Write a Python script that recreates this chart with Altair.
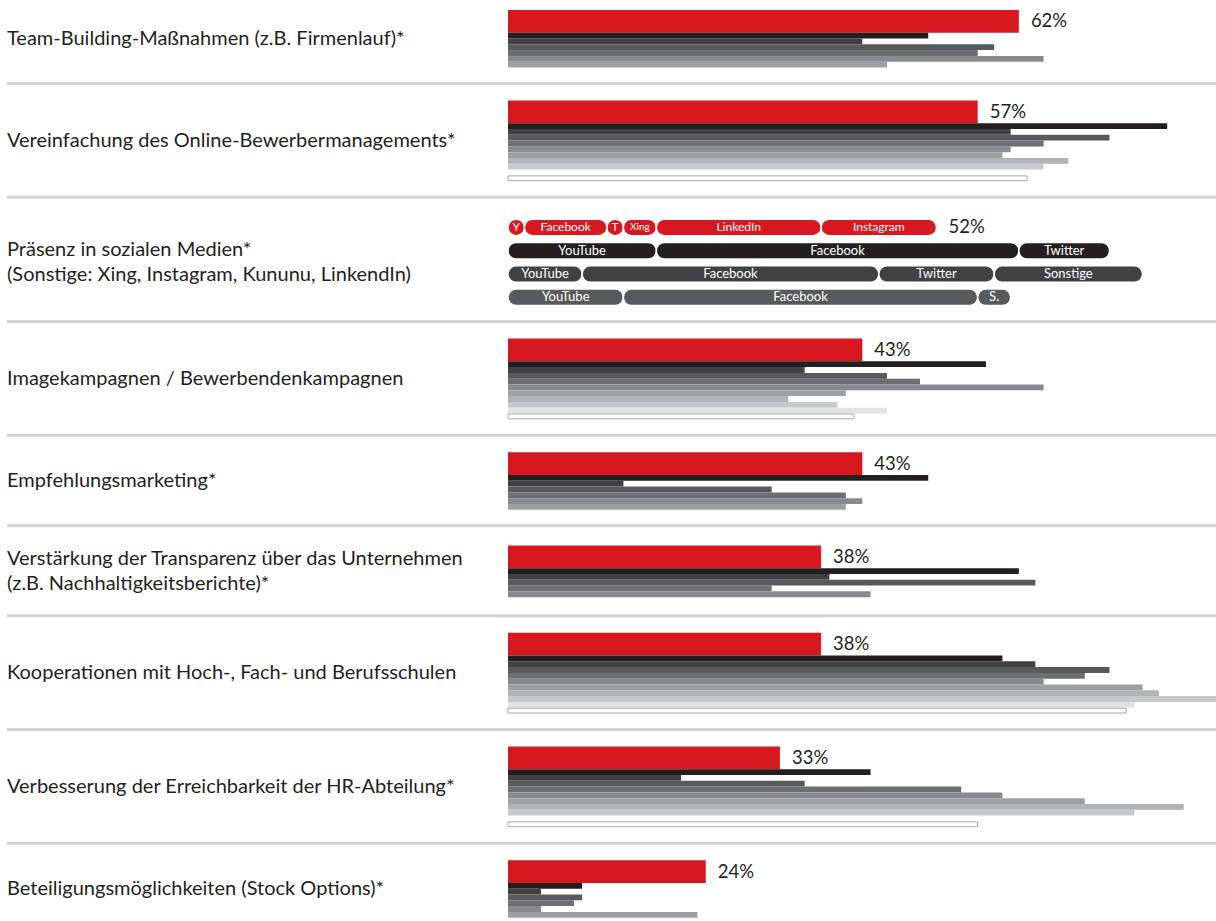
import altair as alt
import pandas as pd

# ---------------- data ----------------
categories = [
    ["Team-Building-Maßnahmen (z.B. Firmenlauf)*"],
    ["Vereinfachung des Online-Bewerbermanagements*"],
    ["Präsenz in sozialen Medien*", "(Sonstige: Xing, Instagram, Kununu, LinkendIn)"],
    ["Imagekampagnen / Bewerbendenkampagnen"],
    ["Empfehlungsmarketing*"],
    ["Verstärkung der Transparenz über das Unternehmen", "(z.B. Nachhaltigkeitsberichte)*"],
    ["Kooperationen mit Hoch-, Fach- und Berufsschulen"],
    ["Verbesserung der Erreichbarkeit der HR-Abteilung*"],
    ["Beteiligungsmöglichkeiten (Stock Options)*"],
]
current_pct = [62, 57, 52, 43, 43, 38, 38, 33, 24]

series_names = ["V1", "V2", "V3", "V4", "V5", "V6", "V7", "V8", "V9", "Referenz"]
previous_pct = [
    [51, 43, 59, 57, 65, 46],
    [80, 61, 73, 65, 61, 60, 68, 65, None, 63],
    None,
    [58, 36, 46, 50, 65, 41, 34, 40, 46, 42],
    [51, 14, 32, 41, 43, 41],
    [62, 39, 64, 32, 44],
    [60, 64, 73, 70, 65, 77, 79, 86, 76, 75],
    [44, 21, 36, 55, 60, 70, 82, 76, None, 57],
    [9, 4, 9, 8, 4, 23],
]

SOCIAL_INDEX = 2
social_labels = [
    ["Y", "Facebook", "T", "Xing", "LinkedIn", "Instagram"],
    ["YouTube", "Facebook", "Twitter"],
    ["YouTube", "Facebook", "Twitter", "Sonstige"],
    ["YouTube", "Facebook", "S."],
]
social_values = [
    [2, 10, 2, 4, 20, 14],
    [18, 44, 11],
    [9, 36, 14, 18],
    [14, 43, 4],
]

# ---------------- style / layout ----------------
W, H = 1216, 921
X0, PX_PER_PCT = 508, 8.24
RED = "#d7191f"
TEXT = "#231f20"
GRAYS = ["#231f20", "#414042", "#58595b", "#6d6e71", "#898a8d",
         "#9d9fa2", "#b1b3b6", "#c8c9cb", "#e1e2e3"]
SOCIAL_FILLS = [RED, "#231f20", "#414042", "#58595b"]
SEP_COLOR = "#d1d3d4"
FONT = "Lato"
LABEL_FS = 20
PCT_FS = 18.5

RED_H, SLOT_H = 22.7, 5.8
PAD_T, PAD_B, FIRST_PAD_T = 17, 16, 10
PILL_H, PILL_PITCH, SOCIAL_PAD_T = 16.5, 23.3, 22
TWO_LINE_MIN = 90
LINE_GAP = 25

red_rows, bar_rows, outline_rows, pct_rows = [], [], [], []
label_rows, sep_rows, pill_rows = [], [], []

y = 0.0
n = len(categories)
for i in range(n):
    social = i == SOCIAL_INDEX
    if social:
        pad_t = SOCIAL_PAD_T
        content = PILL_PITCH * (len(social_values) - 1) + PILL_H
    else:
        pad_t = FIRST_PAD_T if i == 0 else PAD_T
        content = RED_H + SLOT_H * len(previous_pct[i])
    sec_h = pad_t + content + PAD_B
    extra = 0.0
    if len(categories[i]) > 1 and not social and sec_h < TWO_LINE_MIN:
        extra = TWO_LINE_MIN - sec_h
    top = y + pad_t + extra / 2
    center = top + content / 2

    # category label lines
    nl = len(categories[i])
    for k, line in enumerate(categories[i]):
        label_rows.append({"text": line, "y": center + (k - (nl - 1) / 2) * LINE_GAP})

    if social:
        for r, (labs, vals) in enumerate(zip(social_labels, social_values)):
            yt = top + r * PILL_PITCH
            acc = 0
            for lab, v in zip(labs, vals):
                if lab == "Xing":
                    fs = 10
                elif r == 0:
                    fs = 12
                else:
                    fs = 13
                pill_rows.append({
                    "row": r, "text": lab, "start": acc, "end": acc + v,
                    "mid": acc + v / 2, "y0": yt, "y1": yt + PILL_H,
                    "yc": yt + PILL_H / 2, "fill": SOCIAL_FILLS[r], "fs": fs,
                })
                acc += v
        pct_rows.append({"value": current_pct[i], "label": f"{current_pct[i]}%",
                         "yc": top + PILL_H / 2})
    else:
        red_rows.append({"value": current_pct[i], "start": 0, "y0": top, "y1": top + RED_H})
        pct_rows.append({"value": current_pct[i], "label": f"{current_pct[i]}%",
                         "yc": top + RED_H / 2})
        base = top + RED_H
        for s, v in enumerate(previous_pct[i]):
            if v is None:
                continue
            y0 = base + s * SLOT_H
            if s < len(GRAYS):
                bar_rows.append({"series": series_names[s], "value": v, "start": 0,
                                 "y0": y0, "y1": y0 + SLOT_H, "fill": GRAYS[s]})
            else:
                outline_rows.append({"series": series_names[s], "value": v, "start": 0,
                                     "y0": y0 + 0.5, "y1": y0 + SLOT_H - 0.5})
    y += sec_h + extra
    if i < n - 1:
        sep_rows.append({"y": y})

xscale = alt.Scale(domain=[-X0 / PX_PER_PCT, (W - X0) / PX_PER_PCT], nice=False, zero=False)
yscale = alt.Scale(domain=[0, H], reverse=True, nice=False, zero=False)

def X(f):
    return alt.X(f, type="quantitative", scale=xscale, axis=None)

def Y(f):
    return alt.Y(f, type="quantitative", scale=yscale, axis=None)

seps = alt.Chart(pd.DataFrame(sep_rows)).mark_rule(color=SEP_COLOR, strokeWidth=3).encode(
    x=alt.value(7), x2=alt.value(W), y=Y("y"))

reds = alt.Chart(pd.DataFrame(red_rows)).mark_rect(color=RED).encode(
    x=X("start"), x2="value:Q", y=Y("y0"), y2="y1:Q")

grays = alt.Chart(pd.DataFrame(bar_rows)).mark_rect().encode(
    x=X("start"), x2="value:Q", y=Y("y0"), y2="y1:Q",
    color=alt.Color("fill:N", scale=None))

outlines = alt.Chart(pd.DataFrame(outline_rows)).mark_rect(
    fill="white", stroke="#a7a9ac", strokeWidth=1).encode(
    x=X("start"), x2="value:Q", y=Y("y0"), y2="y1:Q")

pills = alt.Chart(pd.DataFrame(pill_rows)).mark_rect(
    cornerRadius=8, stroke="white", strokeWidth=1.5).encode(
    x=X("start"), x2="end:Q", y=Y("y0"), y2="y1:Q",
    color=alt.Color("fill:N", scale=None))

pill_text = alt.Chart(pd.DataFrame(pill_rows)).mark_text(
    color="white", font=FONT, align="center", baseline="middle").encode(
    x=X("mid"), y=Y("yc"), text="text:N", size=alt.Size("fs:Q", scale=None))

pcts = alt.Chart(pd.DataFrame(pct_rows)).mark_text(
    align="left", baseline="middle", dx=12, fontSize=PCT_FS, font=FONT, color=TEXT).encode(
    x=X("value"), y=Y("yc"), text="label:N")

labels = alt.Chart(pd.DataFrame(label_rows)).mark_text(
    align="left", baseline="middle", fontSize=LABEL_FS, font=FONT, color=TEXT).encode(
    x=alt.value(7), y=Y("y"), text="text:N")

chart = alt.layer(seps, reds, grays, outlines, pills, pill_text, pcts, labels).properties(
    width=W, height=H, padding=0, autosize=alt.AutoSizeParams(type="none"),
    background="white",
).configure_view(stroke=None)

chart.save("out.html", embed_options={"renderer": "svg", "actions": False})
